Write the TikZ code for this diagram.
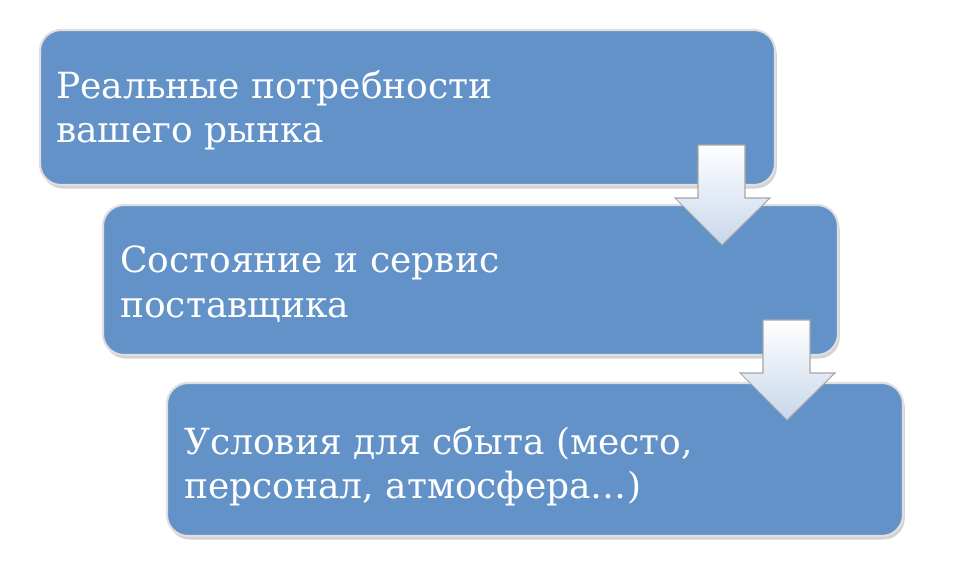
\documentclass[tikz,border=0pt]{standalone}
\usepackage{fontspec}
\setmainfont{DejaVu Serif}
\usetikzlibrary{shadows}
\definecolor{boxblue}{RGB}{98,146,199}
\definecolor{arrlight}{RGB}{200,215,235}
\begin{document}
\begin{tikzpicture}[x=0.02cm,y=-0.02cm,
  bx/.style={draw=white!75!gray,line width=1.2pt,rounded corners=12pt,fill=boxblue,
    drop shadow={opacity=0.35,shadow xshift=1pt,shadow yshift=-2pt}},
  tx/.style={anchor=north west,align=left,text=white,font=\fontsize{20.5}{25.5}\selectfont},
  ar/.style={draw=gray!70,line width=0.6pt,top color=white,bottom color=arrlight}]
\useasboundingbox (0,0) rectangle (964,568);
\draw[bx] (40,30) rectangle (775,185);
\draw[bx] (103,205) rectangle (838,355);
\draw[bx] (167,383) rectangle (903,536);
\node[tx] (t1) at (50,64) {Реальные потребности\\вашего рынка};
\node[tx] (t2) at (114,240) {Состояние и сервис\\поставщика};
\node[tx] (t3) at (178,420) {Условия для сбыта (место,\\персонал, атмосфера…)};
\draw[ar] (698,145) -- (745,145) -- (745,198) -- (770,198) -- (722,245) -- (675,198) -- (698,198) -- cycle;
\draw[ar] (763,320) -- (810,320) -- (810,373) -- (835,373) -- (787,420) -- (740,373) -- (763,373) -- cycle;
\end{tikzpicture}
\end{document}
